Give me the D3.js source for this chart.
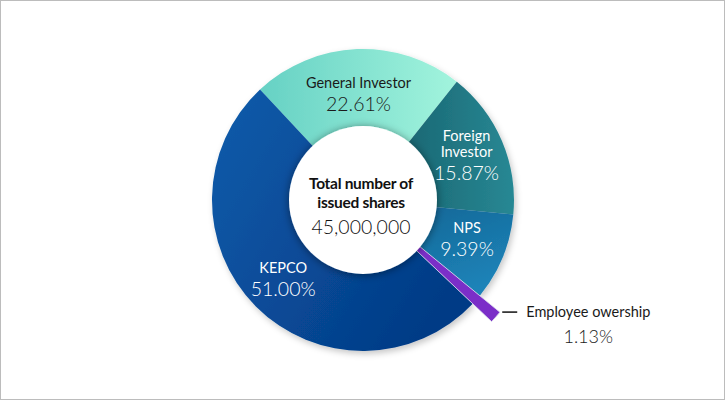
<!DOCTYPE html>
<html>
  <head>
    <script src="https://d3js.org/d3.v7.min.js" charset="utf-8"></script>
    <meta charset="UTF-8">
    <title>shareholders donut</title>
    <style>
      body { margin: 0; background: #fff; }
      text { font-family: Lato, "Noto Sans", sans-serif; }
    </style>
  </head>
  <body>
    <svg class="chart"></svg>
    <script type="text/javascript">

     var width = 725,
         height = 400,
         cx = 363,
         cy = 200,
         innerR = 74,
         outerR = 151,
         explodeR = 177;

     // data, clockwise from the top
     var categories = ["General Investor", "Foreign\nInvestor", "NPS", "Employee owership", "KEPCO"];
     var shares = [22.61, 15.87, 9.39, 1.13, 51.00];
     var centerLines = ["Total number of", "issued shares"];
     var totalShares = "45,000,000";

     var gradients = [
         ["#66d1c4", "#a2f4dd"],
         ["#1a6874", "#288894"],
         ["#156898", "#1c83b8"],
         ["#7b2ec8", "#7b2ec8"],
         ["#0e5cab", "#033b86"]
     ];
     var textColor = ["#1a1a1a", "#fff", "#fff", "#1a1a1a", "#fff"];

     var slices = categories.map(function(c, i) {
         return {name: c, value: shares[i], idx: i};
     });

     var pie = d3.pie()
                 .sort(null)
                 .value(function(d) { return d.value; })
                 .startAngle(-43 * Math.PI / 180)
                 .endAngle((360 - 43) * Math.PI / 180);

     var arcs = pie(slices);

     var ring = d3.arc().innerRadius(innerR - 2).outerRadius(outerR);
     var wedge = d3.arc().innerRadius(0).outerRadius(explodeR);
     var labelArc = d3.arc().innerRadius(innerR).outerRadius(outerR);

     // small hand nudges so labels sit where the original put them
     function nudge(i) {
         if (i == 0) return 6;
         if (i == 1) return -1;
         if (i == 2) return -4;
         return 0;
     }

     var chart = d3.select(".chart")
                   .attr("width", width)
                   .attr("height", height);

     var defs = chart.append("defs");

     gradients.forEach(function(g, i) {
         var lg = defs.append("linearGradient")
                      .attr("id", "grad" + i)
                      .attr("x1", "0").attr("y1", "0")
                      .attr("x2", i == 2 ? "0.4" : "1").attr("y2", i == 2 ? "1" : (i == 4 ? "0.6" : "0"));
         lg.append("stop").attr("offset", "0").attr("stop-color", g[0]);
         lg.append("stop").attr("offset", "1").attr("stop-color", g[1]);
     });

     var ringShadow = defs.append("filter").attr("id", "ringShadow")
                          .attr("x", "-20%").attr("y", "-20%").attr("width", "140%").attr("height", "140%");
     ringShadow.append("feDropShadow")
               .attr("dx", 2).attr("dy", 3).attr("stdDeviation", 3)
               .attr("flood-color", "#000").attr("flood-opacity", 0.22);

     var holeShadow = defs.append("filter").attr("id", "holeShadow")
                          .attr("x", "-30%").attr("y", "-30%").attr("width", "160%").attr("height", "160%");
     holeShadow.append("feDropShadow")
               .attr("dx", 0).attr("dy", 1).attr("stdDeviation", 4)
               .attr("flood-color", "#000").attr("flood-opacity", 0.45);

     // outer frame
     chart.append("rect")
          .attr("x", 0.5).attr("y", 0.5)
          .attr("width", width - 1).attr("height", height - 1)
          .attr("fill", "#fff")
          .attr("stroke", "#bcbcbc");

     var g = chart.append("g").attr("transform", "translate(" + cx + "," + cy + ")");

     g.append("g")
      .attr("filter", "url(#ringShadow)")
      .selectAll("path")
      .data(arcs.filter(function(d) { return d.data.idx != 3; }))
      .enter().append("path")
      .attr("d", ring)
      .attr("fill", function(d) { return "url(#grad" + d.data.idx + ")"; });

     // the small slice sticks out of the ring
     var emp = arcs[3];
     g.append("path")
      .attr("d", wedge(emp))
      .attr("fill", gradients[3][0])
      .attr("stroke", "#dcdcec")
      .attr("stroke-width", 0.8);

     g.append("circle")
      .attr("r", innerR)
      .attr("fill", "#fff")
      .attr("filter", "url(#holeShadow)");

     // slice labels
     var labels = g.append("g")
                   .selectAll("text")
                   .data(arcs.filter(function(d) { return d.data.idx != 3; }))
                   .enter().append("text")
                   .attr("text-anchor", "middle")
                   .attr("fill", function(d) { return textColor[d.data.idx]; })
                   .attr("transform", function(d) {
                       var c = labelArc.centroid(d);
                       var lines = d.data.name.split("\n").length;
                       return "translate(" + c[0] + "," + (c[1] - (lines - 1) * 8 - 6 + nudge(d.data.idx)) + ")";
                   });

     labels.each(function(d) {
         var t = d3.select(this);
         var lines = d.data.name.split("\n");
         lines.forEach(function(l, j) {
             t.append("tspan")
              .attr("x", 0)
              .attr("y", j * 16)
              .attr("font-size", 14.5)
              .text(l);
         });
         t.append("tspan")
          .attr("x", 0)
          .attr("y", (lines.length - 1) * 16 + 23)
          .attr("font-size", 19.5)
          .attr("font-weight", 300)
          .text(d3.format(".2f")(d.data.value) + "%");
     });

     // employee callout
     var a0 = emp.startAngle;
     var p0 = [Math.sin(a0) * (explodeR + 3), -Math.cos(a0) * (explodeR + 3) - 2];
     g.append("line")
      .attr("x1", p0[0]).attr("y1", p0[1])
      .attr("x2", p0[0] + 15).attr("y2", p0[1])
      .attr("stroke", "#111")
      .attr("stroke-width", 1.5);

     var empText = g.append("text")
                    .attr("fill", textColor[3])
                    .attr("transform", "translate(" + (p0[0] + 24) + "," + (p0[1] + 5) + ")");
     empText.append("tspan")
            .attr("x", 0).attr("y", 0)
            .attr("font-size", 14.5)
            .text(categories[3]);
     empText.append("tspan")
            .attr("x", 62).attr("y", 26)
            .attr("text-anchor", "middle")
            .attr("font-size", 18)
            .attr("font-weight", 300)
            .text(d3.format(".2f")(shares[3]) + "%");

     // centre text
     var centre = g.append("text")
                   .attr("text-anchor", "middle")
                   .attr("fill", "#111");
     centerLines.forEach(function(l, j) {
         centre.append("tspan")
               .attr("x", -2)
               .attr("y", -11 + j * 19)
               .attr("font-size", 15.5)
               .attr("font-weight", "bold")
               .attr("letter-spacing", "-0.3px")
               .text(l);
     });
     centre.append("tspan")
           .attr("x", -2)
           .attr("y", 34)
           .attr("font-size", 19.5)
           .attr("font-weight", 300)
           .text(totalShares);

    </script>
  </body>
</html>
